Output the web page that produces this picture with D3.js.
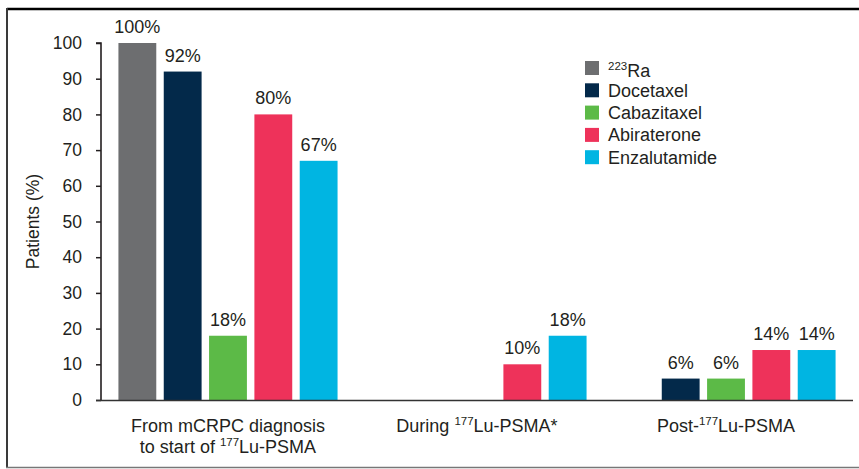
<!DOCTYPE html>
<html>
<head>
<meta charset="utf-8">
<script src="https://cdn.jsdelivr.net/npm/d3@7.9.0/dist/d3.min.js"></script>
<style>
  body { margin: 0; background: #fff; }
  svg text { font-family: "Liberation Sans", Arial, sans-serif; fill: #231f20; }
</style>
</head>
<body>
<svg id="chart" width="859" height="469"></svg>
<script>
// periods on the x axis
const periods = ["diag", "during", "post"];
const drugs = ["Ra", "Docetaxel", "Cabazitaxel", "Abiraterone", "Enzalutamide"];
const colors = ["#6d6e70", "#03294a", "#5cba47", "#ee325a", "#00b5e2"];

// percent of patients, null = no bar
const ra223 = [100, null, null];
const docetaxel = [92, null, 6];
const cabazitaxel = [18, null, 6];
const abiraterone = [80, 10, 14];
const enzalutamide = [67, 18, 14];
const yTicks = [0, 10, 20, 30, 40, 50, 60, 70, 80, 90, 100];

const seriesValues = [ra223, docetaxel, cabazitaxel, abiraterone, enzalutamide];

const svg = d3.select('#chart');

// frame
svg.append('line').attr('x1', 7).attr('x2', 859).attr('y1', 9).attr('y2', 9)
  .attr('stroke', '#000').attr('stroke-width', 2.5);
svg.append('line').attr('x1', 7).attr('x2', 7).attr('y1', 8).attr('y2', 468)
  .attr('stroke', '#3a3a3a').attr('stroke-width', 2);
svg.append('line').attr('x1', 6).attr('x2', 859).attr('y1', 467.5).attr('y2', 467.5)
  .attr('stroke', '#777').attr('stroke-width', 1.5);

const plotLeft = 101, plotRight = 853, plotTop = 43, plotBottom = 400;

const x0 = d3.scaleBand().domain(periods).range([plotLeft, plotRight])
  .paddingInner(0.12).paddingOuter(0.07);
const x1 = d3.scaleBand().domain(drugs).range([0, x0.bandwidth()])
  .paddingInner(0.165).paddingOuter(0);
const y = d3.scaleLinear().domain([0, 100]).range([plotBottom, plotTop]);

// bars
periods.forEach((p, pi) => {
  const g = svg.append('g').attr('transform', `translate(${x0(p)},0)`);
  drugs.forEach((d, di) => {
    const v = seriesValues[di][pi];
    if (v == null) return;
    g.append('rect')
      .attr('x', x1(d))
      .attr('y', y(v))
      .attr('width', x1.bandwidth())
      .attr('height', y(0) - y(v))
      .attr('fill', colors[di]);
    g.append('text')
      .attr('x', x1(d) + x1.bandwidth() / 2)
      .attr('y', y(v) - 10)
      .attr('text-anchor', 'middle')
      .style('font-size', '18px')
      .text(v + '%');
  });
});

// y axis
const yAxis = svg.append('g')
  .attr('transform', `translate(${plotLeft},0)`)
  .call(d3.axisLeft(y).tickValues(yTicks).tickSize(5).tickPadding(14));
yAxis.select('.domain').attr('stroke', '#231f20').attr('stroke-width', 1.6)
  .attr('d', `M-5,${y(100)}H0V${y(0)}`);
yAxis.selectAll('.tick line').attr('stroke', '#231f20').attr('stroke-width', 1.5);
yAxis.selectAll('.tick text').style('font-size', '17.5px')
  .style('font-family', '"Liberation Sans", Arial, sans-serif').attr('fill', '#231f20');

// x axis line
svg.append('line').attr('x1', plotLeft - 5).attr('x2', plotRight)
  .attr('y1', plotBottom + 0.5).attr('y2', plotBottom + 0.5)
  .attr('stroke', '#333').attr('stroke-width', 1.6);

// y title
svg.append('text')
  .attr('transform', `translate(39,${(plotTop + plotBottom) / 2}) rotate(-90)`)
  .attr('text-anchor', 'middle')
  .style('font-size', '17.5px')
  .text('Patients (%)');

// category labels (with superscripts)
function labelLine(xc, yy, parts) {
  const t = svg.append('text').attr('x', xc).attr('y', yy)
    .attr('text-anchor', 'middle').style('font-size', '18px');
  let raised = false;
  parts.forEach(([s, sup]) => {
    const ts = t.append('tspan').text(s);
    if (sup && !raised) { ts.attr('dy', '-0.6em').style('font-size', '11.5px'); raised = true; }
    else if (!sup && raised) { ts.attr('dy', '0.39em'); raised = false; }
  });
  return t;
}
const cx = p => x0(p) + x0.bandwidth() / 2;
labelLine(cx('diag'), 432, [['From mCRPC diagnosis']]);
labelLine(cx('diag'), 453, [['to start of '], ['177', true], ['Lu-PSMA']]);
labelLine(cx('during'), 432, [['During '], ['177', true], ['Lu-PSMA*']]);
labelLine(cx('post'), 432, [['Post-'], ['177', true], ['Lu-PSMA']]);

// legend
const legend = svg.append('g').attr('transform', 'translate(585,61)');
drugs.forEach((d, i) => {
  const row = legend.append('g').attr('transform', `translate(0,${i * 22.3})`);
  row.append('rect').attr('width', 14).attr('height', 14).attr('fill', colors[i]);
  const t = row.append('text').attr('x', 23).attr('y', 13.5).style('font-size', '18px');
  if (d === 'Ra') {
    t.append('tspan').text('223').attr('dy', '-0.4em').style('font-size', '11.5px');
    t.append('tspan').text('Ra').attr('dy', '0.4em');
  } else {
    t.text(d);
  }
});
</script>
</body>
</html>
